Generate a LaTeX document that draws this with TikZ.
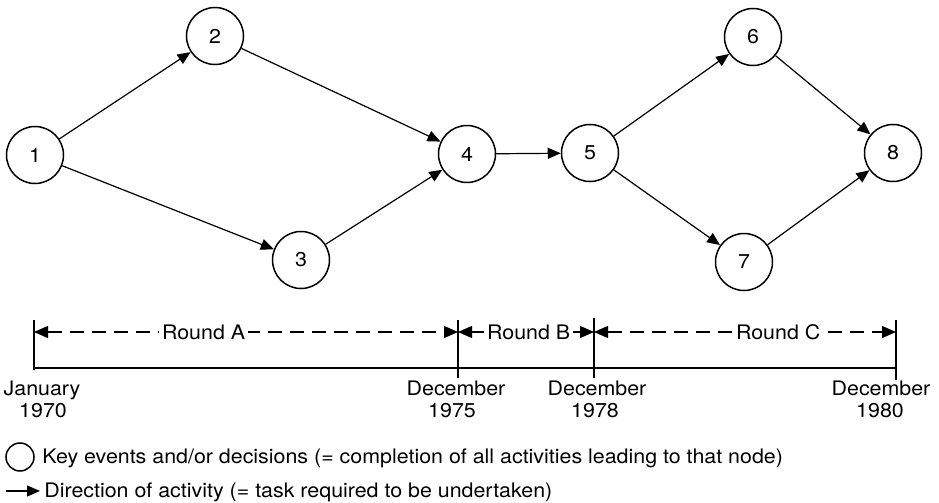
\documentclass[tikz,border=0pt]{standalone}
\usepackage{fontspec}
\setmainfont{TeX Gyre Heros}[FakeStretch=1.07]
\usetikzlibrary{arrows.meta}
\begin{document}
\begin{tikzpicture}[x=0.5pt,y=-0.5pt,
  every node/.append style={font=\fontsize{10}{12}\selectfont},
  event/.style={circle,draw,line width=0.75pt,minimum size=28.5pt,inner sep=0pt},
  activity/.style={line width=0.6pt,-{Triangle[length=6.5pt,width=5.5pt]}},
  tickline/.style={line width=0.6pt},
  span/.style={line width=0.6pt,{Triangle[length=7pt,width=6pt]}-{Triangle[length=7pt,width=6pt]}},
  spandash/.style={span,dash pattern=on 7pt off 4pt},
  spanlabel/.style={fill=white,inner sep=1.5pt},
  datelabel/.style={anchor=base,inner sep=0pt}
]
\fill[white] (0,0) rectangle (939,503);
\useasboundingbox (0,0) rectangle (939,503);

% events
\node[event] (n1) at (35,155) {1};
\node[event] (n2) at (215,36) {2};
\node[event] (n3) at (301,260) {3};
\node[event] (n4) at (467,154) {4};
\node[event] (n5) at (590,153) {5};
\node[event] (n6) at (753,37) {6};
\node[event] (n7) at (744,262) {7};
\node[event] (n8) at (893,153) {8};

% activities
\draw[activity] (n1) -- (n2);
\draw[activity] (n1) -- (n3);
\draw[activity] (n2) -- (n4);
\draw[activity] (n3) -- (n4);
\draw[activity] (n4) -- (n5);
\draw[activity] (n5) -- (n6);
\draw[activity] (n5) -- (n7);
\draw[activity] (n6) -- (n8);
\draw[activity] (n7) -- (n8);

% time scale
\coordinate (t0) at (34,320);  \coordinate (u0) at (34,370);
\coordinate (t1) at (458,320); \coordinate (u1) at (458,378);
\coordinate (t2) at (594,318); \coordinate (u2) at (594,378);
\coordinate (t3) at (896,320); \coordinate (u3) at (896,380);
\coordinate (b0) at (34,368);  \coordinate (b3) at (896,368);
\coordinate (s0) at (34,332);  \coordinate (s1) at (458,332);
\coordinate (s2) at (594,332); \coordinate (s3) at (896,332);

\draw[tickline] (t0) -- (u0);
\draw[tickline] (t1) -- (u1);
\draw[tickline] (t2) -- (u2);
\draw[tickline] (t3) -- (u3);
\draw[tickline] (b0) -- (b3);

\draw[spandash] (s0) -- node[spanlabel,pos=0.40] (ra) {Round A} (s1);
\draw[span] (s1) -- node[spanlabel,pos=0.52] (rb) {Round B} (s2);
\draw[spandash] (s2) -- node[spanlabel,pos=0.61] (rc) {Round C} (s3);

% dates
\node[datelabel] (d0a) at (42,395) {January};
\node[datelabel] (d0b) at (43,417) {1970};
\node[datelabel] (d1a) at (456,395) {December};
\node[datelabel] (d1b) at (452,417) {1975};
\node[datelabel] (d2a) at (597,395) {December};
\node[datelabel] (d2b) at (595,417) {1978};
\node[datelabel] (d3a) at (881,395) {December};
\node[datelabel] (d3b) at (880,417) {1980};

% key
\node[circle,draw,line width=0.75pt,minimum size=14pt,inner sep=0pt] (keyc) at (20,457) {};
\node[anchor=base west,inner sep=0pt] (keyt) at (42,463) {Key events and/or decisions (= completion of all activities leading to that node)};
\coordinate (ka) at (6,491);
\coordinate (kb) at (40,491);
\draw[activity] (ka) -- (kb);
\node[anchor=base west,inner sep=0pt] (keyd) at (44,497) {Direction of activity (= task required to be undertaken)};
\end{tikzpicture}
\end{document}
